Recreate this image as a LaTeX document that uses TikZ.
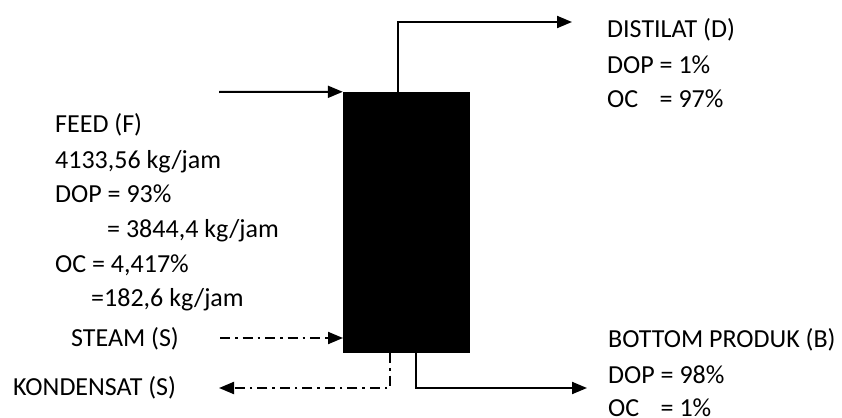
\documentclass[tikz,border=0pt]{standalone}
\usepackage{fontspec}
\setmainfont{Carlito}
\usetikzlibrary{arrows.meta}
\begin{document}
\begin{tikzpicture}[x=1bp,y=1bp,
  lbl/.style={anchor=base west,inner sep=0pt,font=\fontsize{26bp}{30bp}\selectfont},
  flow/.style={line width=2bp,-{Triangle[length=15bp,width=12bp]}},
  dd/.style={flow,dash pattern=on 10bp off 5bp on 2.5bp off 5bp}]
\useasboundingbox (0,0) rectangle (842,417);
\node[fill=black,draw=none,minimum width=127bp,minimum height=261bp,inner sep=0pt] (col) at (406.5,194.5) {};
% free ends
\coordinate (feedin) at (219,325);
\coordinate (dtop) at (398,395);
\coordinate (dout) at (572,395);
\coordinate (steamin) at (220,79);
\coordinate (steamend) at (343,79);
\coordinate (kcorner) at (390,29);
\coordinate (kout) at (219,29);
\coordinate (bcorner) at (416,29);
\coordinate (bout) at (587,29);
% connectors
\draw[flow] (feedin) -- (col.north west);
\draw[flow] (col.north -| dtop) -- (dtop) -- (dout);
\draw[dd] (steamin) -- (steamend);
\draw[dd] (col.south -| kcorner) -- (kcorner) -- (kout);
\draw[flow] (col.south -| bcorner) -- (bcorner) -- (bout);
% labels
\node[lbl] (f1) at (55,285) {FEED (F)};
\node[lbl] (f2) at (55,249) {4133,56 kg/jam};
\node[lbl] (f3) at (55,215) {DOP = 93\%};
\node[lbl] (f4) at (107,180) {= 3844,4 kg/jam};
\node[lbl] (f5) at (55,145) {OC = 4,417\%};
\node[lbl] (f6) at (91,110.5) {=182,6 kg/jam};
\node[lbl] (st) at (71,70.5) {STEAM (S)};
\node[lbl] (ko) at (13,22) {KONDENSAT (S)};
\node[lbl] (d1) at (607,380) {DISTILAT (D)};
\node[lbl] (d2) at (607,344) {DOP = 1\%};
\node[lbl] (d3) at (607,310) {\makebox[0pt][l]{OC}\phantom{DOP} = 97\%};
\node[lbl] (b1) at (608,70) {BOTTOM PRODUK (B)};
\node[lbl] (b2) at (608,34) {DOP = 98\%};
\node[lbl] (b3) at (608,1) {\makebox[0pt][l]{OC}\phantom{DOP} = 1\%};
\end{tikzpicture}
\end{document}
